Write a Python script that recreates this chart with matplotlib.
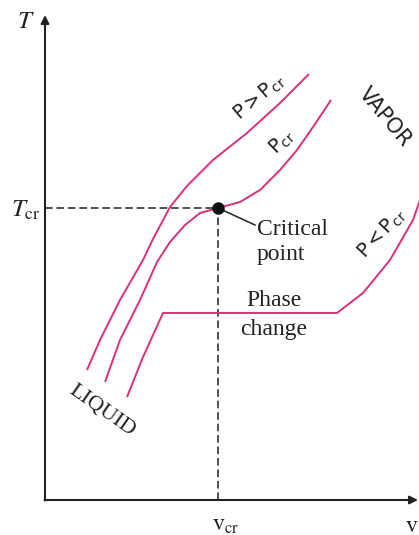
import matplotlib
matplotlib.use("Agg")
import matplotlib.pyplot as plt

plt.rcParams['mathtext.fontset'] = 'stix'
plt.rcParams['font.family'] = ['Liberation Serif', 'DejaVu Serif']

# ---- data (v, T in arbitrary diagram units) ----
v_crit = 173
T_crit = 292

v_above = [42, 55, 75, 98, 108, 125, 142, 168, 202, 235, 264]
T_above = [130, 160, 200, 240, 261, 293, 314, 340, 367, 397, 426]

v_cr = [60, 75, 95, 112, 125, 140, 155, 173, 195, 215, 235, 252, 268, 286]
T_cr = [118, 160, 200, 238, 258, 275, 287, 292, 298, 310, 330, 350, 373, 400]

v_below = [82, 98, 118, 292, 318, 345, 368, 375]
T_below = [103, 143, 187, 187, 207, 240, 280, 300]

line_color = '#dc2f7c'
ink = '#222222'

fig = plt.figure(figsize=(4.19, 5.35), dpi=100)
ax = fig.add_axes([0, 0, 1, 1])
ax.set_xlim(-45, 374)
ax.set_ylim(-35, 500)
ax.axis('off')

# axes with arrows
ax.annotate('', xy=(0, 485), xytext=(0, -0.5),
            arrowprops=dict(arrowstyle='-|>', lw=1.5, color=ink,
                            mutation_scale=12, shrinkA=0, shrinkB=0))
ax.annotate('', xy=(373, 0), xytext=(-0.5, 0),
            arrowprops=dict(arrowstyle='-|>', lw=1.5, color=ink,
                            mutation_scale=12, shrinkA=0, shrinkB=0))

# dashed critical lines
ax.plot([0, v_crit], [T_crit, T_crit], ls=(0, (5, 2.5)), color=ink, lw=1.1)
ax.plot([v_crit, v_crit], [0, T_crit], ls=(0, (5, 2.5)), color=ink, lw=1.1)

# isobars
for vv, tt in [(v_above, T_above), (v_cr, T_cr), (v_below, T_below)]:
    ax.plot(vv, tt, color=line_color, lw=1.4, solid_joinstyle='round',
            solid_capstyle='butt')

# critical point
ax.plot([v_crit], [T_crit], 'o', color='#111111', ms=8, zorder=5)
ax.plot([v_crit, 210], [T_crit, 275], color=ink, lw=1.1)

# labels
ax.text(-19, 478, '$T$', fontsize=18, ha='center', va='center', color=ink)
ax.text(-19, 290, r'$T_{\mathrm{cr}}$', fontsize=18, ha='center', va='center', color=ink)
ax.text(181, -26, r'$\mathrm{v}_{\mathrm{cr}}$', fontsize=17, ha='center', va='center', color=ink)
ax.text(367, -26, r'$\mathrm{v}$', fontsize=17, ha='center', va='center', color=ink)

ax.text(212, 265, 'Critical', fontsize=17, ha='left', va='baseline', color=ink)
ax.text(212, 240, 'point', fontsize=17, ha='left', va='baseline', color=ink)
ax.text(229, 194, 'Phase', fontsize=17, ha='center', va='baseline', color=ink)
ax.text(229, 165, 'change', fontsize=17, ha='center', va='baseline', color=ink)

ax.text(57, 89, 'LIQUID', fontsize=16, rotation=-35, ha='center', va='center',
        color=ink)
sans = ['DejaVu Sans']
ax.text(340, 383, 'VAPOR', fontsize=15, rotation=-50, ha='center', va='center',
        color=ink, family=sans)

ax.text(214, 403, r'$\mathregular{P > P_{cr}}$', fontsize=14, rotation=40,
        ha='center', va='center', color=ink, family=sans)
ax.text(237, 358, r'$\mathregular{P_{cr}}$', fontsize=14, rotation=45,
        ha='center', va='center', color=ink, family=sans)
ax.text(337, 267, r'$\mathregular{P < P_{cr}}$', fontsize=14, rotation=47,
        ha='center', va='center', color=ink, family=sans)

fig.savefig('out.png', dpi=100)
